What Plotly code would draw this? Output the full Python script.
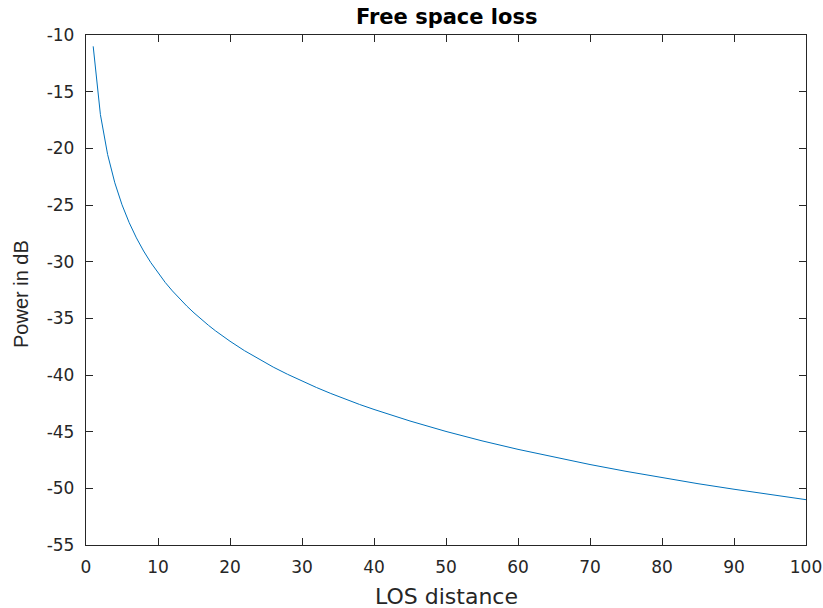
import plotly.graph_objects as go

# LOS distance samples and received power (dB) along the curve
distance = [1, 2, 3, 4, 5, 6, 7, 8, 9, 10, 11, 12, 13, 14, 15, 16, 17, 18, 19, 20,
            22, 24, 26, 28, 30, 32, 34, 36, 38, 40,
            45, 50, 55, 60, 65, 70, 75, 80, 85, 90, 95, 100]
power_db = [-11.0, -17.02, -20.54, -23.04, -24.98, -26.56, -27.9, -29.06, -30.08, -31.0,
            -31.83, -32.58, -33.28, -33.92, -34.52, -35.08, -35.61, -36.11, -36.58, -37.02,
            -37.85, -38.6, -39.3, -39.94, -40.54, -41.1, -41.63, -42.13, -42.6, -43.04,
            -44.06, -44.98, -45.81, -46.56, -47.26, -47.9, -48.5, -49.06, -49.59,
            -50.08, -50.55, -51.0]

x_ticks = [0, 10, 20, 30, 40, 50, 60, 70, 80, 90, 100]
y_ticks = [-55, -50, -45, -40, -35, -30, -25, -20, -15, -10]
y_tick_text = ["-55", "-50", "-45", "-40", "-35", "-30", "-25", "-20", "-15", "-10"]

axis_color = "#262626"
wide_font = "DejaVu Sans, Verdana, sans-serif"
narrow_font = "Liberation Sans, Arial, sans-serif"

fig = go.Figure()
fig.add_trace(go.Scatter(x=distance, y=power_db, mode="lines",
                         line=dict(color="#0072BD", width=1)))

axis_common = dict(showline=True, linecolor=axis_color, linewidth=1.3, mirror="ticks",
                   ticks="inside", ticklen=7, tickwidth=1.3, tickcolor=axis_color,
                   showgrid=False, zeroline=False, automargin=False,
                   tickfont=dict(size=17, color=axis_color, family=wide_font))

W, H = 823, 608
ml, mr, mt, mb = 86, 17, 35, 63
pw, ph = W - ml - mr, H - mt - mb

fig.update_layout(
    width=W, height=H,
    margin=dict(l=ml, r=mr, t=mt, b=mb),
    paper_bgcolor="white", plot_bgcolor="white",
    showlegend=False,
    xaxis=dict(range=[0, 100], tickvals=x_ticks, ticklabelstandoff=6, **axis_common),
    yaxis=dict(range=[-55, -10], tickvals=y_ticks, ticktext=y_tick_text,
               ticklabelstandoff=7, **axis_common),
    annotations=[
        dict(text="<b>Free space loss</b>", xref="paper", yref="paper",
             x=(446 - ml) / pw, y=(H - mb - 17) / ph,
             showarrow=False, xanchor="center", yanchor="middle",
             font=dict(size=21, color="black", family=wide_font)),
        dict(text="LOS distance", xref="paper", yref="paper",
             x=(446 - ml) / pw, y=-(596 - (H - mb)) / ph,
             showarrow=False, xanchor="center", yanchor="middle",
             font=dict(size=22, color=axis_color, family=wide_font)),
        dict(text="Power in dB", xref="paper", yref="paper",
             x=-(ml - 21) / pw, y=(H - mb - 294) / ph,
             showarrow=False, xanchor="center", yanchor="middle", textangle=-90,
             font=dict(size=20, color=axis_color, family=narrow_font)),
    ],
)

fig.write_html("out.html")
